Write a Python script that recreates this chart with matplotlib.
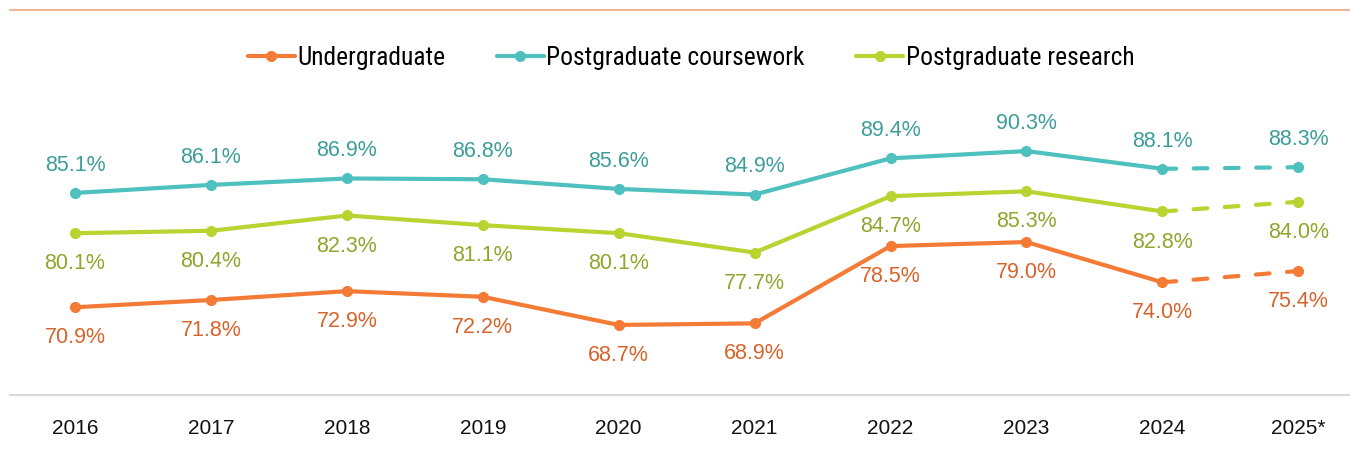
import matplotlib
matplotlib.use("Agg")
import matplotlib.pyplot as plt
from matplotlib.lines import Line2D

years = ["2016", "2017", "2018", "2019", "2020", "2021", "2022", "2023", "2024", "2025*"]
undergraduate = [70.9, 71.8, 72.9, 72.2, 68.7, 68.9, 78.5, 79.0, 74.0, 75.4]
pg_coursework = [85.1, 86.1, 86.9, 86.8, 85.6, 84.9, 89.4, 90.3, 88.1, 88.3]
pg_research = [80.1, 80.4, 82.3, 81.1, 80.1, 77.7, 84.7, 85.3, 82.8, 84.0]

series = [
    ("Undergraduate", undergraduate, "#F47B35", "#D8632A", "below"),
    ("Postgraduate coursework", pg_coursework, "#4EC1BE", "#3C9E9B", "above"),
    ("Postgraduate research", pg_research, "#B8D431", "#8EA62A", "below"),
]

plt.rcParams["font.family"] = ["Liberation Sans", "DejaVu Sans"]

fig = plt.figure(figsize=(13.5, 4.5), dpi=100)
ax = fig.add_axes([10 / 1350, 55 / 450, 1340 / 1350, 322 / 450])

x = list(range(len(years)))
n_actual = len(years) - 1  # last year is a projection

for name, vals, line_col, text_col, side in series:
    ax.plot(x[:n_actual], vals[:n_actual], color=line_col, lw=3,
            solid_capstyle="round", solid_joinstyle="round", zorder=3)
    ax.plot(x[n_actual - 1:], vals[n_actual - 1:], color=line_col, lw=3,
            dashes=(3.3, 4.2), dash_capstyle="round", zorder=3)
    ax.plot(x, vals, "o", color=line_col, ms=7, zorder=4)
    for xi, v in zip(x, vals):
        off = 20 if side == "above" else -22
        ax.annotate(f"{v:.1f}%", (xi, v), xytext=(0, off), textcoords="offset points",
                    ha="center", va="center", fontsize=15.5, color=text_col)

ax.set_xlim(-0.478, 9.38)
ax.set_ylim(60, 100)
ax.set_xticks(x)
ax.set_xticklabels(years, fontsize=15, color="#111111")
ax.tick_params(axis="x", length=0, pad=17)
ax.set_yticks([])
for s in ["top", "left", "right"]:
    ax.spines[s].set_visible(False)
ax.spines["bottom"].set_color("#D9D9D9")
ax.spines["bottom"].set_linewidth(1.5)

handles = [Line2D([0], [0], color=c, lw=3, marker="o", ms=7, solid_capstyle="round")
           for _, _, c, _, _ in series]
fig.legend(handles, [s[0] for s in series], loc="center", bbox_to_anchor=(691 / 1350, 1 - 58 / 450),
           ncol=3, frameon=False, handlelength=1.85, handletextpad=0.1,
           columnspacing=2.0, prop={"family": ["Roboto Condensed", "Roboto", "DejaVu Sans"], "size": 18.4})

fig.add_artist(Line2D([10 / 1350, 1], [1 - 10 / 450, 1 - 10 / 450], color="#F2A57A", lw=1.2))

fig.savefig("out.png", dpi=100, facecolor="white")
